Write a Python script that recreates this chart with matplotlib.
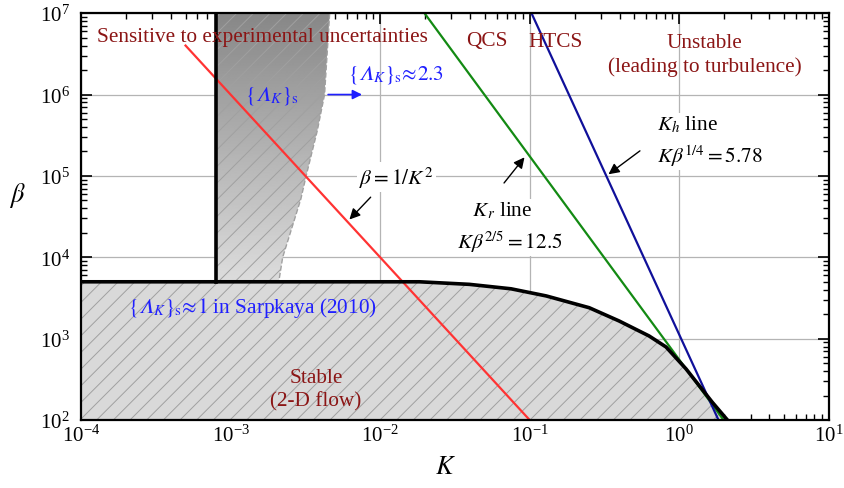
import numpy as np
import matplotlib
matplotlib.use('Agg')
import matplotlib.pyplot as plt
from matplotlib.patches import Polygon

plt.rcParams['font.family'] = ['Liberation Serif', 'DejaVu Serif']
plt.rcParams['mathtext.fontset'] = 'stix'
plt.rcParams['hatch.color'] = '#a0a0a0'
plt.rcParams['hatch.linewidth'] = 0.7

# stability boundary (black curve)
K_bound = [1e-4, 0.0183, 0.0395, 0.075, 0.129, 0.25, 0.396, 0.628, 0.816, 1.11, 1.66, 2.1]
beta_bound = [5.0e3, 5.0e3, 4.65e3, 4.1e3, 3.35e3, 2.4e3, 1.65e3, 1.08e3, 790, 425, 166, 100]

# vertical boundary K ~ 8e-4
K_vert = [8e-4, 8e-4]
beta_vert = [5.0e3, 1e7]

# right (dashed) edge of the {Lambda_K}_s band, top to bottom
K_band = [4.6e-3, 4.45e-3, 4.25e-3, 3.8e-3, 3.2e-3, 2.95e-3, 2.55e-3, 2.23e-3, 2.1e-3]
beta_band = [1e7, 3.8e6, 1e6, 3.6e5, 1e5, 5.2e4, 2.2e4, 1e4, 5.0e3]

# straight lines (end points)
K_red = [5e-4, 0.1]
beta_red = [4e6, 1e2]
K_green = [0.0198, 1.98]
beta_green = [1e7, 1e2]
K_blue = [0.1028, 1.83]
beta_blue = [1e7, 1e2]

dark_red = '#8b1515'
blue_txt = '#1f1fff'

fig = plt.figure(figsize=(8.44, 4.89), dpi=100)
ax = fig.add_axes([0.096, 0.139, 0.886, 0.832])
ax.set_xscale('log')
ax.set_yscale('log')
ax.set_xlim(1e-4, 1e1)
ax.set_ylim(1e2, 1e7)
ax.set_autoscale_on(False)

ax.grid(True, which='major', color='#b4b4b4', linewidth=0.9, zorder=0)
ax.set_axisbelow(True)

# stable region
ax.fill_between(K_bound, beta_bound, 100, facecolor='#d9d9d9', edgecolor='#a0a0a0',
                hatch='//', linewidth=0, zorder=1)

# gradient band
verts = [(K_vert[0], beta_vert[0]), (K_vert[1], beta_vert[1])] + list(zip(K_band, beta_band))
band = Polygon(verts, closed=True, facecolor='none', edgecolor='#a0a0a0',
               linestyle='--', linewidth=1.0, hatch='//', zorder=2)
ax.add_patch(band)
yy = np.linspace(0, 1, 256)
shade = np.clip(0.87 - (yy - 0.33) / 0.67 * 0.34, 0.5, 0.9)
grad = np.tile(shade[:, None], (1, 2))
img = ax.imshow(grad, extent=[0, 1, 0, 1], transform=ax.transAxes, origin='lower',
                cmap='gray', vmin=0, vmax=1, aspect='auto', zorder=1.5,
                interpolation='bilinear')
img.set_clip_path(band)
ax.set_xlim(1e-4, 1e1)
ax.set_ylim(1e2, 1e7)

ax.plot(K_red, beta_red, color='#ff3333', lw=1.6, zorder=4)
ax.plot(K_green, beta_green, color='#138a13', lw=1.6, zorder=4)
ax.plot(K_blue, beta_blue, color='#10109a', lw=1.6, zorder=4)
ax.plot(K_bound, beta_bound, color='black', lw=2.6, zorder=5, solid_joinstyle='round')
ax.plot(K_vert, beta_vert, color='black', lw=2.6, zorder=5)

fs = 15.3
ax.text(0.242, 0.943, 'Sensitive to experimental uncertainties', transform=ax.transAxes,
        ha='center', va='center', color=dark_red, fontsize=fs, zorder=6)
ax.text(0.543, 0.932, 'QCS', transform=ax.transAxes, ha='center', va='center',
        color=dark_red, fontsize=fs, zorder=6)
ax.text(0.634, 0.930, 'HTCS', transform=ax.transAxes, ha='center', va='center',
        color=dark_red, fontsize=fs, zorder=6)
ax.text(0.834, 0.898, 'Unstable\n(leading to turbulence)', transform=ax.transAxes,
        ha='center', va='center', color=dark_red, fontsize=fs, zorder=6, linespacing=1.3)
ax.text(0.314, 0.076, 'Stable\n(2-D flow)', transform=ax.transAxes,
        ha='center', va='center', color=dark_red, fontsize=fs, zorder=6, linespacing=1.3)

lam = r'$\{𝛬_K\}_{\mathrm{s}}$'
ax.text(0.255, 0.799, lam, transform=ax.transAxes, ha='center', va='center',
        color=blue_txt, fontsize=fs, zorder=6)
ax.text(0.357, 0.85, r'$\{𝛬_K\}_{\mathrm{s}}\!\approx\!2.3$', transform=ax.transAxes,
        ha='left', va='center', color=blue_txt, fontsize=fs, zorder=6)
ax.annotate('', xy=(7.9e-3, 1e6), xytext=(4.3e-3, 1e6),
            arrowprops=dict(arrowstyle='-|>', color=blue_txt, lw=1.2, mutation_scale=14),
            zorder=6)
ax.text(0.063, 0.278, r'$\{𝛬_K\}_{\mathrm{s}}\!\approx\!1$ in Sarpkaya (2010)',
        transform=ax.transAxes, ha='left', va='center', color=blue_txt, fontsize=fs, zorder=6)

# white boxes hide the grid but stay under the lines
wbox = dict(facecolor='white', edgecolor='none', pad=1.5)
ax.text(0.422, 0.597, r'$\beta = 1/K^2$', transform=ax.transAxes, ha='center', va='center',
        fontsize=fs, zorder=3, bbox=wbox)
ax.annotate('', xy=(6.05e-3, 2.75e4), xytext=(8.9e-3, 5.8e4),
            arrowprops=dict(arrowstyle='-|>', color='black', lw=1.0, mutation_scale=16), zorder=6)

ax.text(0.77, 0.686, '$K_h$ line\n' + r'$K\beta^{1/4} = 5.78$', transform=ax.transAxes,
        ha='left', va='center', fontsize=fs, zorder=3, bbox=wbox, linespacing=1.4)
ax.annotate('', xy=(0.325, 1e5), xytext=(0.565, 2.13e5),
            arrowprops=dict(arrowstyle='-|>', color='black', lw=1.0, mutation_scale=16), zorder=6)

ax.text(0.503, 0.475, '   $K_r$ line\n' + r'$K\beta^{2/5} = 12.5$', transform=ax.transAxes,
        ha='left', va='center', fontsize=fs, zorder=3, bbox=wbox, linespacing=1.4)
ax.annotate('', xy=(0.0948, 1.8e5), xytext=(0.0656, 7.7e4),
            arrowprops=dict(arrowstyle='-|>', color='black', lw=1.0, mutation_scale=16), zorder=6)

ax.tick_params(which='both', direction='in', top=True, right=True, labelsize=15)
ax.tick_params(which='major', length=8, width=1.2)
ax.tick_params(which='minor', length=4, width=1.0)
ax.tick_params(axis='y', which='major', pad=8)
for s in ax.spines.values():
    s.set_linewidth(1.6)
    s.set_zorder(7)

ax.text(0.487, -0.115, '$K$', transform=ax.transAxes, ha='center', va='center', fontsize=19)
ax.text(-0.0856, 0.555, r'$\beta$', transform=ax.transAxes, ha='center', va='center', fontsize=19)

fig.savefig('out.png', dpi=100)
